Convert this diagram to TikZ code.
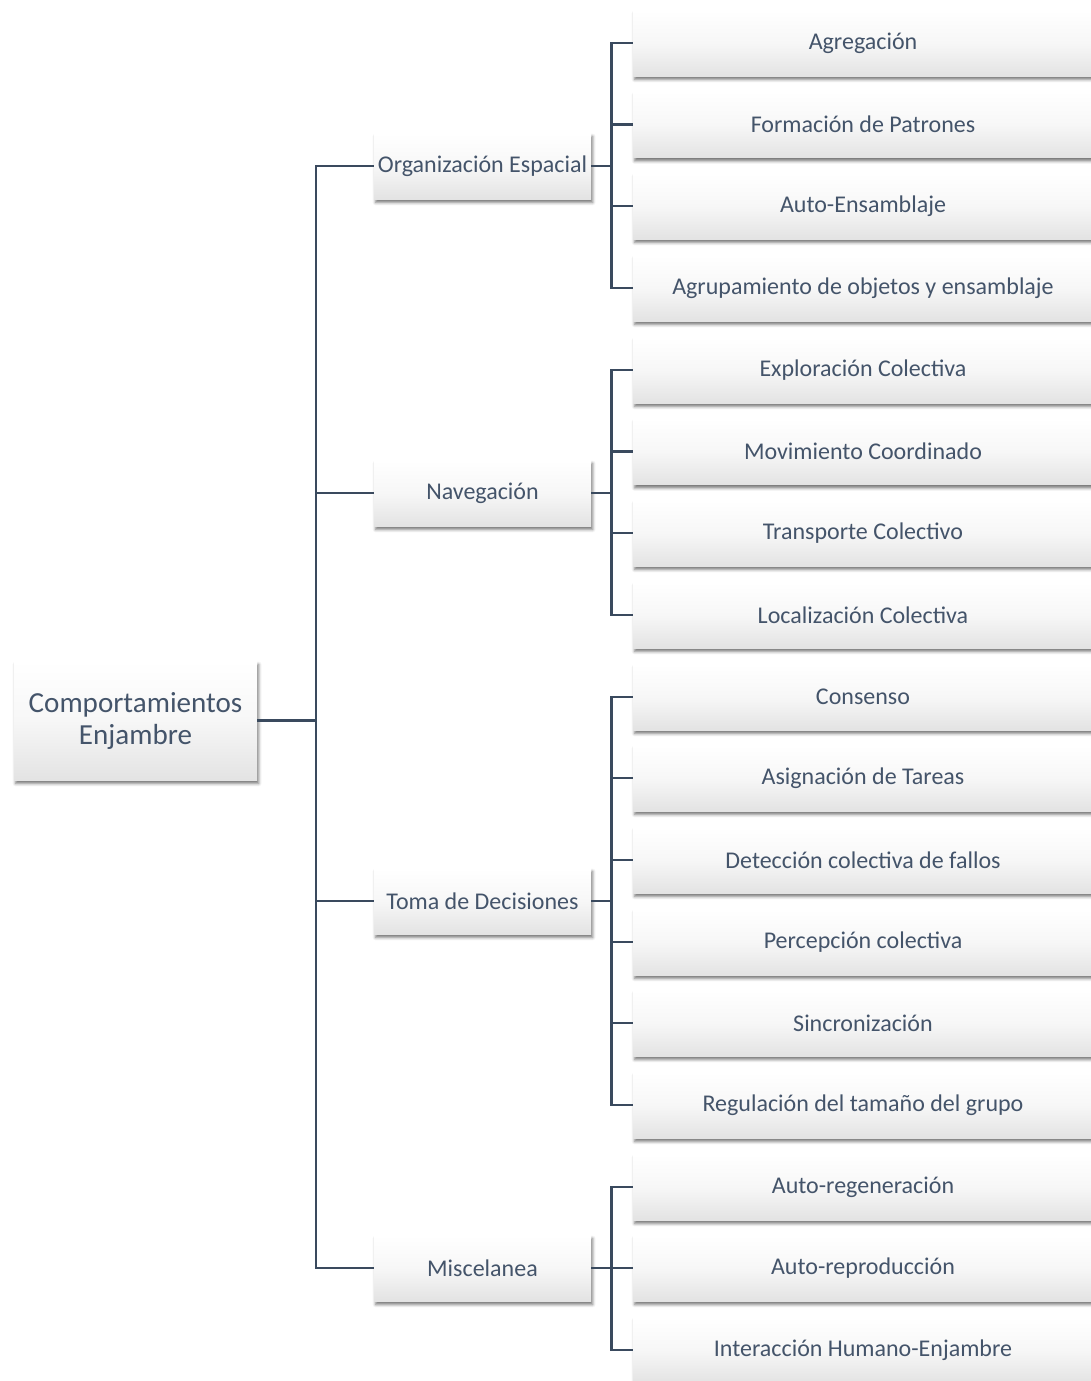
\documentclass[tikz,border=0pt]{standalone}
\usepackage{fontspec}
\setmainfont{Carlito}
\usetikzlibrary{shadows.blur}
\definecolor{txt}{HTML}{44546A}
\definecolor{ln}{HTML}{3A4A5E}
\definecolor{botc}{HTML}{E3E3E3}
\definecolor{midc}{HTML}{F7F7F7}
\tikzset{
  boxbase/.style={draw=none, top color=white, bottom color=botc, middle color=midc,
    blur shadow={shadow xshift=1.2pt, shadow yshift=-2.6pt, shadow blur radius=2.2pt, shadow opacity=55},
    text=txt, align=center, inner sep=0pt},
  rootbox/.style={boxbase, minimum width=243*0.75pt, minimum height=119*0.75pt, font=\fontsize{21.8}{24}\selectfont},
  catbox/.style={boxbase, minimum width=217*0.75pt, minimum height=66*0.75pt, font=\fontsize{18}{21}\selectfont},
  leafbox/.style={boxbase, minimum width=460*0.75pt, minimum height=66*0.75pt, font=\fontsize{18}{21}\selectfont},
  conn/.style={draw=ln, line width=2.2pt}
}
\begin{document}
\begin{tikzpicture}[x=0.75pt, y=-0.75pt]
\useasboundingbox (0,0) rectangle (1090,1381);
\node[rootbox] (root) at (135.5,720.5) {Comportamientos\\Enjambre};
\node[catbox] (ca) at (482.5,166) {Organización Espacial};
\node[catbox] (cb) at (482.5,493) {Navegación};
\node[catbox] (cc) at (482.5,901) {Toma de Decisiones};
\node[catbox] (cd) at (482.5,1268) {Miscelanea};
\node[leafbox] (c1) at (863,43) {Agregación};
\node[leafbox] (c2) at (863,124.5) {Formación de Patrones};
\node[leafbox] (c3) at (863,206) {Auto-Ensamblaje};
\node[leafbox] (c4) at (863,288) {Agrupamiento de objetos y ensamblaje};
\node[leafbox] (c5) at (863,370) {Exploración Colectiva};
\node[leafbox] (c6) at (863,451.5) {Movimiento Coordinado};
\node[leafbox] (c7) at (863,533) {Transporte Colectivo};
\node[leafbox] (c8) at (863,615) {Localización Colectiva};
\node[leafbox] (c9) at (863,697) {Consenso};
\node[leafbox] (c10) at (863,778) {Asignación de Tareas};
\node[leafbox] (c11) at (863,860) {Detección colectiva de fallos};
\node[leafbox] (c12) at (863,942) {Percepción colectiva};
\node[leafbox] (c13) at (863,1023) {Sincronización};
\node[leafbox] (c14) at (863,1105) {Regulación del tamaño del grupo};
\node[leafbox] (c15) at (863,1187) {Auto-regeneración};
\node[leafbox] (c16) at (863,1268) {Auto-reproducción};
\node[leafbox] (c17) at (863,1350) {Interacción Humano-Enjambre};
\coordinate (trunk) at (316,720.5);
\draw[conn] (root.east) -- (trunk);
\foreach \c in {ca,cb,cc,cd} \draw[conn] (\c.west) -| (trunk);
\foreach \c in {c1,c2,c3,c4} \draw[conn] (ca.east) -- ++(20,0) |- (\c.west);
\foreach \c in {c5,c6,c7,c8} \draw[conn] (cb.east) -- ++(20,0) |- (\c.west);
\foreach \c in {c9,c10,c11,c12,c13,c14} \draw[conn] (cc.east) -- ++(20,0) |- (\c.west);
\foreach \c in {c15,c16,c17} \draw[conn] (cd.east) -- ++(20,0) |- (\c.west);
\end{tikzpicture}
\end{document}
